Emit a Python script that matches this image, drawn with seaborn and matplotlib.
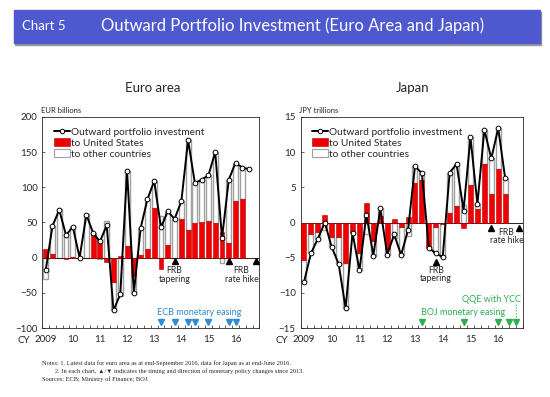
import numpy as np
import matplotlib
matplotlib.use("Agg")
import matplotlib.pyplot as plt
from matplotlib.patches import Rectangle, Patch
from matplotlib.lines import Line2D
import seaborn as sns

sns.set_style("ticks")
plt.rcParams["font.family"] = ["Lato", "DejaVu Sans"]

# quarters 2009Q1 .. 2016Q4
quarters = [f"{y}Q{q}" for y in range(2009, 2017) for q in range(1, 5)]
year_labels = ["2009", "10", "11", "12", "13", "14", "15", "16"]

# euro area, EUR billions (total to 2016Q3, breakdown to 2016Q2)
euro_total = [-18, 45, 68, 32, 44, 0, 61, 35, 23, 46, -75, -52, 123, -50, 42, 83,
              109, 43, 66, 55, 80, 167, 106, 111, 117, 150, 28, 111, 135, 128, 126]
euro_us = [12, 5, -1, -2, 0.5, 0, -1, 32, 25, -6, -34, 3, 16, -26, 4, 12,
           70, -16, 18, 0, 55, 39, 49, 50, 52, 49, 36, 21, 80, 84]
euro_other = [-30, 40, 69, 34, 43.5, 0, 62, 3, -2, 52, -41, -55, 107, -24, 38, 71,
              39, 59, 48, 55, 25, 128, 57, 61, 65, 101, -8, 90, 55, 44]

# Japan, JPY trillions (to 2016Q2)
jp_total = [-8.5, -4.4, -2.3, 0.0, -3.5, -5.9, -12.2, -1.5, -6.8, 1.1, -4.7, 2.0, -4.6, -1.7, -4.6, -1.1,
            8.0, 7.0, -3.6, -4.4, -4.9, 7.1, 8.3, 1.7, 12.1, 2.6, 13.2, 9.1, 13.4, 6.3]
jp_us = [-5.4, -1.7, -1.3, 1.1, -2.0, -2.1, -5.8, -1.4, -4.4, 2.8, -2.6, 0.9, -3.8, 0.5, -0.7, 0.8,
         5.6, 6.1, -3.5, -0.6, -0.2, 1.4, 2.3, -0.8, 5.3, 1.9, 8.3, 4.1, 7.6, 4.0]
jp_other = [-3.1, -2.7, -1.0, -1.1, -1.5, -3.8, -6.4, -0.1, -2.4, -1.7, -2.1, 1.1, -0.8, -2.2, -3.9, -1.9,
            2.4, 0.9, -0.1, -3.8, -4.7, 5.7, 6.0, 2.5, 6.8, 0.7, 4.9, 5.0, 5.8, 2.3]

# policy events (quarter index from 2009Q1)
frb_taper = [19]
frb_hike = [27, 31]
ecb_easing = [17, 19, 21, 22, 24, 27, 28]
boj_easing = [17, 23, 28, 29.5, 30.5]

RED = "#f00000"
BLUE = "#2f8bd3"
GREEN = "#2fae4f"


def draw_panel(ax, total, us, other, ylim, yticks, unit):
    n = len(us)
    us_a = np.array(us, dtype=float)
    ot_a = np.array(other, dtype=float)
    base = np.where(np.sign(us_a) == np.sign(ot_a), us_a, 0)
    ax.bar(np.arange(n), ot_a, bottom=base, width=0.72, color="white",
           edgecolor="#a0a0a0", linewidth=1.0, zorder=2)
    sns.barplot(x=quarters[:n], y=us, order=quarters, color=RED, saturation=1,
                width=0.72, edgecolor="#b00000", linewidth=0.4, ax=ax, zorder=3)
    ax.axhline(0, color="black", lw=0.6, zorder=2.5)
    sns.lineplot(x=np.arange(len(total)), y=total, color="black", lw=1.4,
                 marker="o", markersize=3.4, markerfacecolor="white",
                 markeredgecolor="black", markeredgewidth=0.7, ax=ax, zorder=5)
    ax.set_xlim(-0.5, 31.5)
    ax.set_ylim(*ylim)
    ax.set_yticks(yticks)
    ax.set_xticks(range(0, 32, 4))
    ax.set_xticklabels(year_labels)
    ax.set_xticks(np.arange(-0.5, 32, 1), minor=True)
    ax.tick_params(axis="x", which="major", length=0, pad=5, labelsize=7)
    ax.tick_params(axis="x", which="minor", direction="in", length=2.5, width=0.5)
    ax.tick_params(axis="y", direction="in", length=2.5, width=0.5, labelsize=7)
    ax.set_xlabel("")
    ax.set_ylabel("")
    for s in ax.spines.values():
        s.set_linewidth(0.6)
        s.set_visible(True)
    ax.text(-0.008, 1.015, unit, transform=ax.transAxes, fontsize=5.5, va="bottom")
    ax.text(-0.055, -0.057, "CY", transform=ax.transAxes, fontsize=7,
            ha="right", va="center")
    handles = [
        Line2D([], [], color="black", lw=1.4, marker="o", markersize=3.2,
               markerfacecolor="white", markeredgecolor="black", markeredgewidth=0.7),
        Patch(facecolor=RED, edgecolor="#b00000", linewidth=0.4),
        Patch(facecolor="white", edgecolor="#a0a0a0", linewidth=0.8),
    ]
    ax.legend(handles, ["Outward portfolio investment", "to United States",
                        "to other countries"],
              loc="upper left", bbox_to_anchor=(0.02, 0.985), frameon=False,
              fontsize=7.3, handlelength=1.6, handleheight=0.8,
              handletextpad=0.1, labelspacing=0.15, borderpad=0.2)


fig = plt.figure(figsize=(5.5, 3.97), dpi=100)
ax1 = fig.add_axes([42.3 / 550, 1 - 328 / 397, 217 / 550, 211 / 397])
ax2 = fig.add_axes([300.5 / 550, 1 - 328 / 397, 222 / 550, 211 / 397])

draw_panel(ax1, euro_total, euro_us, euro_other, (-100, 200),
           range(-100, 201, 50), "EUR billions")
draw_panel(ax2, jp_total, jp_us, jp_other, (-15, 15),
           range(-15, 16, 5), "JPY trillions")

# euro area annotations
ax1.plot(frb_taper, [-5], "^", color="black", ms=4.5, zorder=6)
ax1.text(frb_taper[0], -25, "FRB\ntapering", ha="center", va="center",
         fontsize=6.3, linespacing=0.95)
ax1.plot(frb_hike, [-5, -5], "^", color="black", ms=4.5, zorder=6)
ax1.text(28.9, -25, "FRB\nrate hike", ha="center", va="center",
         fontsize=6.3, linespacing=0.95)
ax1.plot(ecb_easing, [-91] * len(ecb_easing), "v", color=BLUE, ms=4.5, zorder=6)
ax1.text(22.6, -78, "ECB monetary easing", ha="center", va="center",
         fontsize=6.5, color=BLUE)

# Japan annotations
ax2.plot(frb_taper, [-5.6], "^", color="black", ms=4.5, zorder=6)
ax2.text(frb_taper[0], -7.4, "FRB\ntapering", ha="center", va="center",
         fontsize=6.3, linespacing=0.95)
ax2.plot(frb_hike, [-0.8, -0.8], "^", color="black", ms=4.5, zorder=6)
ax2.text(29.2, -2.0, "FRB\nrate hike", ha="center", va="center",
         fontsize=6.3, linespacing=0.95)
ax2.plot(boj_easing, [-14.1] * len(boj_easing), "v", color=GREEN, ms=4.5, zorder=6)
ax2.text(23.0, -12.85, "BOJ monetary easing", ha="center", va="center",
         fontsize=6.5, color=GREEN)
ax2.text(31.2, -11.0, "QQE with YCC", ha="right", va="center",
         fontsize=6.5, color=GREEN)
ax2.plot([30.5, 30.5], [-11.6, -13.7], ls=":", color=GREEN, lw=0.8)

# header band
fig.patches.append(Rectangle((15 / 550, 1 - 45 / 397), 526 / 550, 33 / 397,
                             transform=fig.transFigure, color="#9a9a9a", zorder=0))
fig.patches.append(Rectangle((14 / 550, 1 - 43 / 397), 526 / 550, 33 / 397,
                             transform=fig.transFigure, color="#4e58cf", zorder=1))
fig.text(22 / 550, 1 - 26 / 397, "Chart 5", color="white", fontsize=9.5,
         va="center", zorder=2)
fig.text(101 / 550, 1 - 26 / 397, "Outward Portfolio Investment (Euro Area and Japan)",
         color="white", fontsize=12, va="center", zorder=2)

fig.text(153 / 550, 1 - 88 / 397, "Euro area", fontsize=9.5, ha="center", va="center")
fig.text(413 / 550, 1 - 88 / 397, "Japan", fontsize=9.5, ha="center", va="center")

serif = ["Liberation Serif", "DejaVu Serif"]
fig.text(42 / 550, 1 - 363 / 397,
         "Notes: 1. Latest data for euro area as at end-September 2016, data for Japan as at end-June 2016.",
         family=serif, fontsize=4.6, va="center")
fig.text(55 / 550, 1 - 371 / 397,
         "2. In each chart, \u25b2/\u25bc indicates the timing and direction of monetary policy changes since 2013.",
         family=serif, fontsize=4.6, va="center")
fig.text(42 / 550, 1 - 379 / 397, "Sources: ECB; Ministry of Finance; BOJ.",
         family=serif, fontsize=4.6, va="center")

fig.savefig("out.png", dpi=100)
